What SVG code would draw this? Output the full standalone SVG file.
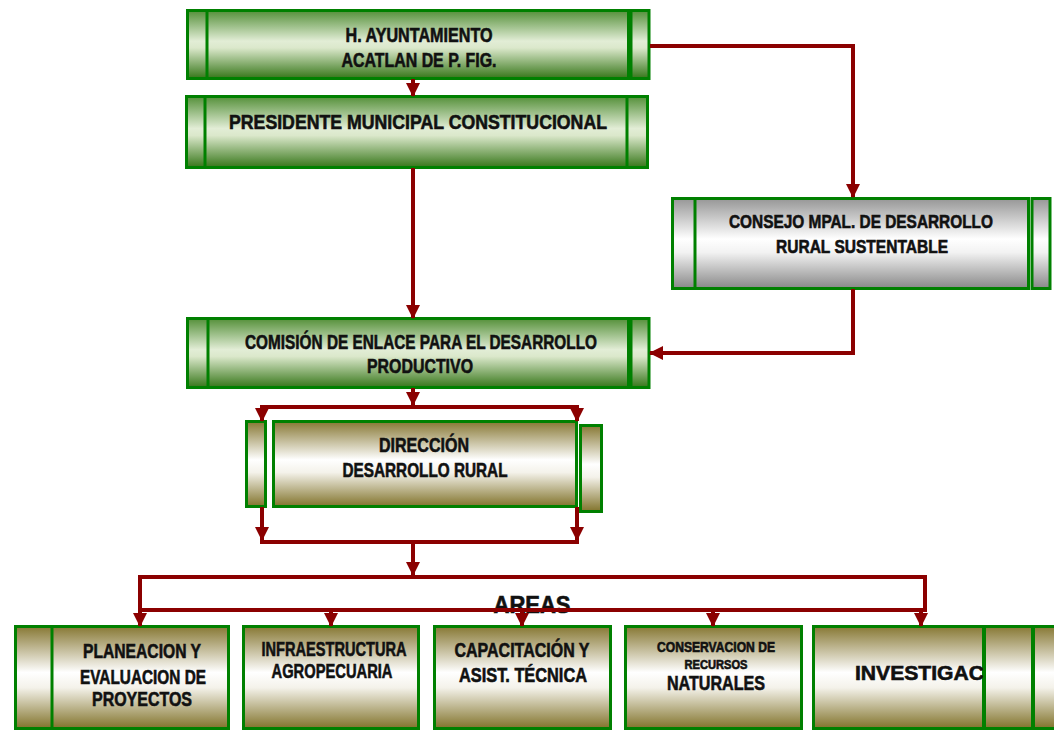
<svg xmlns="http://www.w3.org/2000/svg" width="1054" height="730" viewBox="0 0 1054 730">
<defs>
<linearGradient id="gGreen" x1="0" y1="0" x2="0" y2="1">
<stop offset="0" stop-color="#55903a"/><stop offset="0.45" stop-color="#e2edd6"/><stop offset="0.55" stop-color="#dbe8cb"/><stop offset="1" stop-color="#367619"/>
</linearGradient>
<linearGradient id="gGray" x1="0" y1="0" x2="0" y2="1">
<stop offset="0" stop-color="#969696"/><stop offset="0.45" stop-color="#ffffff"/><stop offset="0.6" stop-color="#f2f2f2"/><stop offset="1" stop-color="#888888"/>
</linearGradient>
<linearGradient id="gOlive" x1="0" y1="0" x2="0" y2="1">
<stop offset="0" stop-color="#877834"/><stop offset="0.45" stop-color="#ffffff"/><stop offset="0.6" stop-color="#f4f2ea"/><stop offset="1" stop-color="#81732b"/>
</linearGradient>
<marker id="ah" markerUnits="userSpaceOnUse" markerWidth="14" markerHeight="16" viewBox="0 0 14 16" refX="13" refY="8" orient="auto">
<path d="M0 1 L14 8 L0 15 Z" fill="#8b0000"/>
</marker>
</defs>
<style>
.g{fill:url(#gGreen);stroke:#008000;stroke-width:3}
.s{fill:url(#gGray);stroke:#008000;stroke-width:3}
.o{fill:url(#gOlive);stroke:#008000;stroke-width:3}
.c{fill:none;stroke:#8b0000;stroke-width:4}
.a{fill:none;stroke:#8b0000;stroke-width:4;marker-end:url(#ah)}
text{font-family:"Liberation Sans Narrow","Liberation Sans",Arial,sans-serif;font-weight:bold;fill:#111;stroke:#111;stroke-width:0.6;text-anchor:middle}
.t19{font-size:20px}
.t18{font-size:19px}
.t14{font-size:14px}
.t12{font-size:12px}
</style>
<rect width="1054" height="730" fill="#fff"/>

<g id="ayuntamiento">
<rect class="g" x="187.5" y="10.5" width="441" height="68"/>
<line x1="207" y1="10" x2="207" y2="79" stroke="#008000" stroke-width="3"/>
<rect class="g" x="631" y="10.5" width="18" height="68"/>
<text class="t19" x="419" y="42" textLength="147" lengthAdjust="spacingAndGlyphs">H. AYUNTAMIENTO</text>
<text class="t19" x="419" y="67" textLength="155" lengthAdjust="spacingAndGlyphs">ACATLAN DE P. FIG.</text>
</g>

<g id="presidente">
<rect class="g" x="186.5" y="96.5" width="461" height="71"/>
<line x1="205" y1="96" x2="205" y2="168" stroke="#008000" stroke-width="3"/>
<line x1="627" y1="96" x2="627" y2="168" stroke="#008000" stroke-width="3"/>
<text class="t19" x="418" y="129" textLength="378" lengthAdjust="spacingAndGlyphs">PRESIDENTE MUNICIPAL CONSTITUCIONAL</text>
</g>

<g id="consejo">
<rect class="s" x="672.5" y="198.5" width="356" height="90"/>
<line x1="695" y1="198" x2="695" y2="289" stroke="#008000" stroke-width="3"/>
<rect class="s" x="1032" y="198.5" width="18" height="90"/>
<text class="t18" x="861" y="228" textLength="264" lengthAdjust="spacingAndGlyphs">CONSEJO MPAL. DE DESARROLLO</text>
<text class="t18" x="862" y="253" textLength="172" lengthAdjust="spacingAndGlyphs">RURAL SUSTENTABLE</text>
</g>

<g id="comision">
<rect class="g" x="187.5" y="318.5" width="441" height="69"/>
<line x1="208" y1="318" x2="208" y2="388" stroke="#008000" stroke-width="3"/>
<rect class="g" x="631" y="318.5" width="18" height="69"/>
<text class="t19" x="421" y="349" textLength="352" lengthAdjust="spacingAndGlyphs">COMISIÓN DE ENLACE PARA EL DESARROLLO</text>
<text class="t19" x="420" y="373" textLength="106" lengthAdjust="spacingAndGlyphs">PRODUCTIVO</text>
</g>

<g id="direccion">
<rect class="o" x="246.5" y="421.5" width="19" height="85"/>
<rect class="o" x="273.5" y="421.5" width="303" height="85"/>
<rect class="o" x="580.5" y="425.5" width="21" height="86"/>
<text class="t19" x="424" y="452" textLength="90" lengthAdjust="spacingAndGlyphs">DIRECCIÓN</text>
<text class="t19" x="425" y="477" textLength="165" lengthAdjust="spacingAndGlyphs">DESARROLLO RURAL</text>
</g>

<g id="areas-label">
<text x="532" y="613" font-size="23" textLength="77" lengthAdjust="spacingAndGlyphs">AREAS</text>
</g>

<g id="planeacion">
<rect class="o" x="15.5" y="626.5" width="213" height="102"/>
<line x1="52" y1="626" x2="52" y2="729" stroke="#008000" stroke-width="3"/>
<text class="t19" x="142" y="658" textLength="118" lengthAdjust="spacingAndGlyphs">PLANEACION Y</text>
<text class="t19" x="143" y="684" textLength="126" lengthAdjust="spacingAndGlyphs">EVALUACION DE</text>
<text class="t19" x="142" y="706" textLength="100" lengthAdjust="spacingAndGlyphs">PROYECTOS</text>
</g>

<g id="infraestructura">
<rect class="o" x="243.5" y="626.5" width="175" height="102"/>
<text class="t19" x="334" y="656" textLength="145" lengthAdjust="spacingAndGlyphs">INFRAESTRUCTURA</text>
<text class="t19" x="332" y="678" textLength="121" lengthAdjust="spacingAndGlyphs">AGROPECUARIA</text>
</g>

<g id="capacitacion">
<rect class="o" x="434.5" y="626.5" width="176" height="102"/>
<text class="t19" x="522" y="657" textLength="135" lengthAdjust="spacingAndGlyphs">CAPACITACIÓN Y</text>
<text class="t19" x="523" y="682" textLength="128" lengthAdjust="spacingAndGlyphs">ASIST. TÉCNICA</text>
</g>

<g id="conservacion">
<rect class="o" x="625.5" y="626.5" width="176" height="102"/>
<text class="t14" x="716" y="652" textLength="118" lengthAdjust="spacingAndGlyphs">CONSERVACION DE</text>
<text class="t12" x="716" y="669" textLength="63" lengthAdjust="spacingAndGlyphs">RECURSOS</text>
<text class="t19" x="716" y="690" textLength="98" lengthAdjust="spacingAndGlyphs">NATURALES</text>
</g>

<g id="investigacion">
<rect class="o" x="813.5" y="626.5" width="170" height="102"/>
<text class="t19" x="919.5" y="680" textLength="129" lengthAdjust="spacingAndGlyphs">INVESTIGAC</text>
<rect class="o" x="984.5" y="626.5" width="48" height="102"/>
<rect class="o" x="1033.5" y="626.5" width="30" height="102"/>
</g>

<g id="connectors">
<path class="a" d="M413 79 V96"/>
<path class="a" d="M413 168 V318"/>
<path class="a" d="M650 46 H853 V197"/>
<path class="a" d="M853 289 V353 H650"/>
<path class="a" d="M413 388 V405"/>
<path class="c" d="M260 407 H579"/>
<path class="a" d="M262 407 V421"/>
<path class="a" d="M577 407 V421"/>
<path class="a" d="M262 507 V540"/>
<path class="a" d="M577 507 V540"/>
<path class="c" d="M260 542 H579"/>
<path class="a" d="M413 542 V575"/>
<path class="c" d="M140 577 H925 V610 H140"/>
<path class="a" d="M140 575 V626"/>
<path class="a" d="M331 610 V626"/>
<path class="a" d="M522 610 V626"/>
<path class="a" d="M713 610 V626"/>
<path class="a" d="M921 610 V626"/>
</g>
</svg>
